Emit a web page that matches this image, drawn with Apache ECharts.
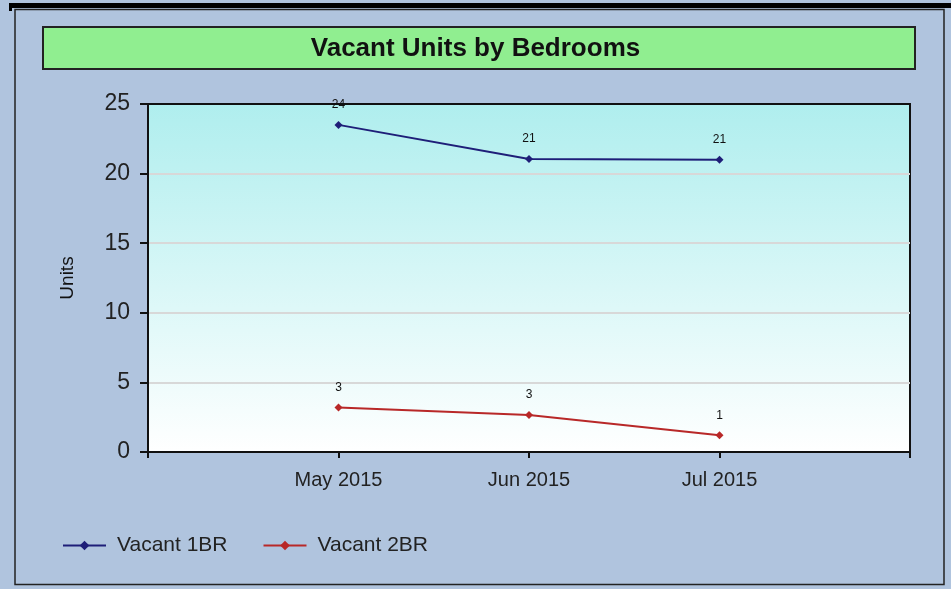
<!DOCTYPE html>
<html>
<head>
<meta charset="utf-8">
<script src="https://cdn.jsdelivr.net/npm/echarts@6/dist/echarts.min.js"></script>
<style>
  html, body { margin: 0; padding: 0; background: #B0C4DE; }
  #chart { width: 951px; height: 589px; }
</style>
</head>
<body>
<div id="chart"></div>
<script>
const months = ['May 2015', 'Jun 2015', 'Jul 2015'];
const vacant1BR = [23.5, 21.05, 21];
const vacant2BR = [3.2, 2.65, 1.2];
const yTicks = [0, 5, 10, 15, 20, 25];

// pad the category axis with empty slots on both sides
const xCats = [''].concat(months, ['']);
const pad = arr => ['-'].concat(arr, ['-']);

const chart = echarts.init(document.getElementById('chart'));
const font = 'Liberation Sans, Arial, sans-serif';

const lineSeries = (name, data, color) => ({
  name: name,
  type: 'line',
  data: pad(data),
  symbol: 'diamond',
  symbolSize: 8,
  lineStyle: { color: color, width: 2 },
  itemStyle: { color: color },
  label: {
    show: true,
    position: 'top',
    distance: 10,
    fontSize: 12,
    fontFamily: font,
    color: '#111',
    formatter: p => Math.round(p.value)
  }
});

const option = {
  backgroundColor: '#B0C4DE',
  animation: false,
  graphic: [
    { type: 'rect', shape: { x: 9, y: 3, width: 942, height: 5 }, style: { fill: '#000' } },
    { type: 'rect', shape: { x: 9, y: 3, width: 3, height: 8 }, style: { fill: '#000' } },
    { type: 'rect', shape: { x: 15, y: 9.5, width: 929, height: 575 }, style: { fill: 'none', stroke: '#222', lineWidth: 1.5 } },
    { type: 'rect', z: -1, shape: { x: 43, y: 27, width: 872, height: 42 }, style: { fill: '#90EE90', stroke: '#222', lineWidth: 2 } }
  ],
  title: {
    text: 'Vacant Units by Bedrooms',
    left: 'center',
    top: 36,
    padding: 0,
    textStyle: { fontFamily: font, fontSize: 26, fontWeight: 'bold', color: '#111' }
  },
  legend: {
    left: 57,
    top: 530,
    itemWidth: 43,
    itemHeight: 12,
    itemGap: 35,
    textStyle: { fontFamily: font, fontSize: 21, color: '#222', padding: [0, 0, 0, 6] },
    data: ['Vacant 1BR', 'Vacant 2BR']
  },
  grid: {
    left: 148,
    right: 41,
    top: 104,
    bottom: 137,
    show: true,
    borderColor: '#111',
    borderWidth: 2,
    backgroundColor: new echarts.graphic.LinearGradient(0, 0, 0, 1, [
      { offset: 0, color: '#AFEEEE' },
      { offset: 1, color: '#FFFFFF' }
    ])
  },
  xAxis: {
    type: 'category',
    data: xCats,
    boundaryGap: false,
    axisLine: { lineStyle: { color: '#111', width: 2 } },
    axisTick: { show: true, length: 6, alignWithLabel: true, lineStyle: { color: '#111', width: 2 } },
    axisLabel: { fontFamily: font, fontSize: 20, color: '#222', margin: 18, interval: 0 },
    splitLine: { show: false }
  },
  yAxis: {
    type: 'value',
    min: yTicks[0],
    max: yTicks[yTicks.length - 1],
    interval: 5,
    name: 'Units',
    nameLocation: 'middle',
    nameRotate: 90,
    nameGap: 71,
    nameTextStyle: { fontFamily: font, fontSize: 19, color: '#111' },
    axisLine: { show: true, lineStyle: { color: '#111', width: 2 } },
    axisTick: { show: true, length: 8, lineStyle: { color: '#111', width: 2 } },
    axisLabel: { fontFamily: font, fontSize: 23, color: '#222', margin: 18 },
    splitLine: { show: true, showMinLine: false, showMaxLine: false, lineStyle: { color: '#D8D8D8', width: 2 } }
  },
  series: [
    lineSeries('Vacant 1BR', vacant1BR, '#1E1E78'),
    lineSeries('Vacant 2BR', vacant2BR, '#B82828')
  ]
};

chart.setOption(option);
</script>
</body>
</html>
